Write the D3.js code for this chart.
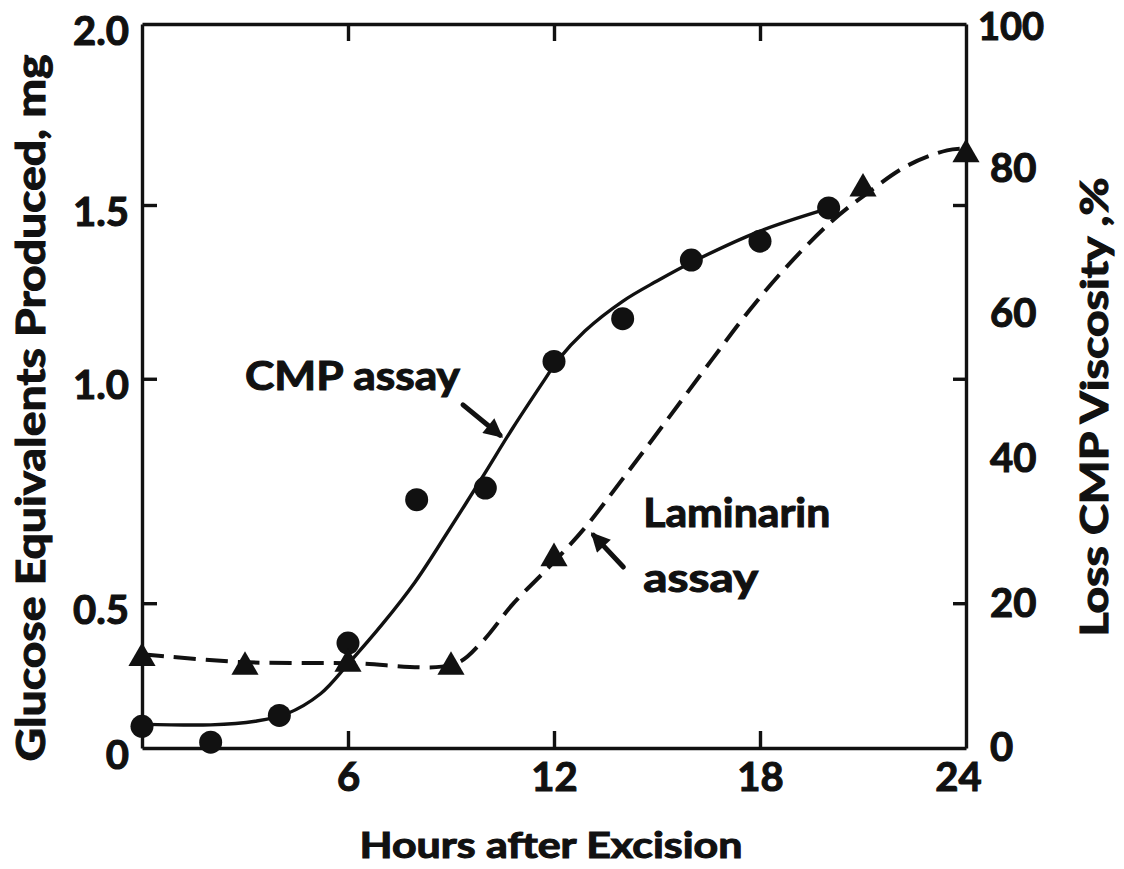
<!DOCTYPE html>
<html lang="en">
<head>
<meta charset="utf-8">
<title>Glucose equivalents and CMP viscosity loss after excision</title>
<script src="https://cdn.jsdelivr.net/npm/d3@7"></script>
<style>
  body { margin: 0; background: #fff; }
  svg text { font-family: Lato, "DejaVu Sans", sans-serif; font-weight: 700; fill: #111;
             stroke: #111; stroke-width: 1.1px; paint-order: stroke; }
  .axis path, .axis line { stroke: #111; stroke-width: 3.4; }
</style>
</head>
<body>
<div id="chart"></div>
<script>
// CMP assay: loss of CMP viscosity, % (right axis)
var cmpHours = [0, 2, 4, 6, 8, 10, 12, 14, 16, 18, 20];
var cmpLoss  = [3.0, 0.8, 4.5, 14.5, 34.3, 35.9, 53.4, 59.3, 67.4, 70.0, 74.6];

// the hand-drawn solid curve
var cmpCurveHours = [0, 2.0, 3.3, 4.2, 5.2, 6.0, 7.0, 7.95, 8.9, 9.9, 10.8, 11.8, 12.1, 12.9, 14.0, 15.0, 16.1, 18.0, 19.9];
var cmpCurveLoss  = [3.3, 3.2, 3.7, 4.7, 7.5, 11.6, 17.1, 22.9, 29.8, 37.3, 44.2, 51.4, 53.5, 57.6, 61.7, 64.5, 67.3, 71.4, 74.4];

// laminarin assay: glucose equivalents produced, mg (left axis)
var lamHours   = [0, 3, 6, 9, 12, 21, 24];
var lamGlucose = [0.31, 0.28, 0.29, 0.28, 0.60, 1.545, 1.64];

// the hand-drawn dashed curve
var lamCurveHours   = [0, 2.85, 6.0, 9.1, 9.9, 10.8, 11.9, 12.9, 14.0, 15.3, 16.6, 17.7, 18.8, 20.1, 21.1, 22.3, 23.45, 23.95];
var lamCurveGlucose = [0.324, 0.297, 0.293, 0.29, 0.366, 0.497, 0.584, 0.668, 0.777, 0.909, 1.055, 1.198, 1.325, 1.454, 1.531, 1.609, 1.651, 1.656];

// tick labels
var xTicks = [6, 12, 18, 24];
var leftTicks = [0, 0.5, 1.0, 1.5, 2.0];
var rightTicks = [0, 20, 40, 60, 80, 100];

// labels in the plot, placed in data units (hours, % loss)
var noteText  = ["CMP assay", "Laminarin", "assay"];
var noteHours = [3.0, 14.6, 14.6];
var noteLoss  = [49.4, 30.5, 21.5];
var noteWidth = [215, 187, 115];

var arrowFrom = [[9.35, 47.4], [14.02, 25.0]];
var arrowTo   = [[10.43, 43.2], [13.15, 29.4]];

var W = 1124, H = 869;
var mLeft = 142, mRight = 966, mTop = 24, mBottom = 748;

var svg = d3.select("#chart").append("svg")
    .attr("width", W).attr("height", H)
    .style("background", "#fff");

var x = d3.scaleLinear().domain([0, 24]).range([mLeft, mRight]);
var yR = d3.scaleLinear().domain([0, 100]).range([mBottom, mTop]);
// the printed mg axis is not evenly spaced; its ticks sit at these % heights
var yL = d3.scaleLinear().domain([0, 0.5, 1, 1.5, 2]).range([0, 20, 51, 75, 100].map(yR));

var ink = "#111";

// axes / frame
var gx = svg.append("g").attr("class", "axis")
    .attr("transform", "translate(0," + mBottom + ")")
    .call(d3.axisBottom(x).tickValues(xTicks).tickSizeInner(-17).tickSizeOuter(0).tickPadding(15));
gx.selectAll(".tick").filter(function(d) { return d === 24; }).select("line").remove();
gx.selectAll(".tick").filter(function(d) { return d === 24; }).select("text").attr("dx", -8);

svg.append("g").attr("class", "axis")
    .attr("transform", "translate(0," + mTop + ")")
    .call(d3.axisTop(x).tickValues([6, 12, 18]).tickSizeInner(-17).tickSizeOuter(0).tickFormat(""));

var gl = svg.append("g").attr("class", "axis")
    .attr("transform", "translate(" + mLeft + ",0)")
    .call(d3.axisLeft(yL).tickValues(leftTicks).tickSizeInner(-15).tickSizeOuter(0).tickPadding(13)
        .tickFormat(function(d) { return d === 0 ? "0" : d3.format(".1f")(d); }));
gl.selectAll(".tick").filter(function(d) { return d === 0 || d === 2; }).select("line").remove();
gl.selectAll(".tick text").attr("dy", "0.5em");

svg.append("g").attr("class", "axis")
    .attr("transform", "translate(" + mRight + ",0)")
    .call(d3.axisLeft(yL).tickValues([0.5, 1, 1.5]).tickSizeInner(13).tickSizeOuter(0).tickFormat(""));

var gr = svg.append("g").attr("class", "axis")
    .attr("transform", "translate(" + mRight + ",0)")
    .call(d3.axisRight(yR).tickValues(rightTicks).tickSize(0).tickPadding(24));
gr.select(".domain").remove();

svg.selectAll(".axis text").style("font-size", "40px").attr("fill", ink);
gr.selectAll(".tick").filter(function(d) { return d === 100; }).select("text")
    .attr("dx", -12).attr("dy", "0.4em").style("font-size", "38px");

// axis titles
svg.append("text")
    .attr("x", 551).attr("y", 858)
    .attr("text-anchor", "middle")
    .attr("textLength", 383).attr("lengthAdjust", "spacingAndGlyphs")
    .style("font-size", "37px")
    .text("Hours after Excision");

svg.append("text")
    .attr("transform", "translate(45,408) rotate(-90)")
    .attr("text-anchor", "middle")
    .attr("textLength", 707).attr("lengthAdjust", "spacingAndGlyphs")
    .style("font-size", "40px")
    .text("Glucose Equivalents Produced, mg");

svg.append("text")
    .attr("transform", "translate(1108,407) rotate(-90)")
    .attr("text-anchor", "middle")
    .attr("textLength", 459).attr("lengthAdjust", "spacingAndGlyphs")
    .style("font-size", "38px")
    .text("Loss CMP Viscosity ,%");

// curves
var lineR = d3.line()
    .x(function(d) { return x(d[0]); })
    .y(function(d) { return yR(d[1]); })
    .curve(d3.curveCatmullRom.alpha(0.5));
var lineL = d3.line()
    .x(function(d) { return x(d[0]); })
    .y(function(d) { return yL(d[1]); })
    .curve(d3.curveCatmullRom.alpha(0.5));

svg.append("path")
    .datum(d3.zip(lamCurveHours, lamCurveGlucose))
    .attr("d", lineL)
    .attr("fill", "none").attr("stroke", ink)
    .attr("stroke-width", 4).attr("stroke-dasharray", "22,10");

svg.append("path")
    .datum(d3.zip(cmpCurveHours, cmpCurveLoss))
    .attr("d", lineR)
    .attr("fill", "none").attr("stroke", ink)
    .attr("stroke-width", 3.4);

// points
svg.selectAll(".cmp")
    .data(d3.zip(cmpHours, cmpLoss))
    .enter().append("circle")
    .attr("class", "cmp")
    .attr("cx", function(d) { return x(d[0]); })
    .attr("cy", function(d) { return yR(d[1]); })
    .attr("r", 11.5)
    .attr("fill", ink);

svg.selectAll(".lam")
    .data(d3.zip(lamHours, lamGlucose))
    .enter().append("path")
    .attr("class", "lam")
    .attr("transform", function(d) { return "translate(" + x(d[0]) + "," + yL(d[1]) + ")"; })
    .attr("d", d3.symbol(d3.symbolTriangle, 320))
    .attr("fill", ink);

// labels and arrows
svg.selectAll(".note")
    .data(noteText)
    .enter().append("text")
    .attr("class", "note")
    .attr("x", function(d, i) { return x(noteHours[i]); })
    .attr("y", function(d, i) { return yR(noteLoss[i]); })
    .attr("textLength", function(d, i) { return noteWidth[i]; })
    .attr("lengthAdjust", "spacingAndGlyphs")
    .style("font-size", "40px")
    .text(function(d) { return d; });

svg.append("defs").append("marker")
    .attr("id", "head")
    .attr("viewBox", "0 0 10 10")
    .attr("refX", 8).attr("refY", 5)
    .attr("markerWidth", 4).attr("markerHeight", 3.8)
    .attr("markerUnits", "strokeWidth")
    .attr("orient", "auto")
    .append("path")
    .attr("d", "M0,0 L10,5 L0,10 Z")
    .attr("fill", ink);

svg.selectAll(".arrow")
    .data(arrowFrom)
    .enter().append("line")
    .attr("class", "arrow")
    .attr("x1", function(d) { return x(d[0]); })
    .attr("y1", function(d) { return yR(d[1]); })
    .attr("x2", function(d, i) { return x(arrowTo[i][0]); })
    .attr("y2", function(d, i) { return yR(arrowTo[i][1]); })
    .attr("stroke", ink)
    .attr("stroke-width", 5)
    .attr("stroke-linecap", "round")
    .attr("marker-end", "url(#head)");
</script>
</body>
</html>
